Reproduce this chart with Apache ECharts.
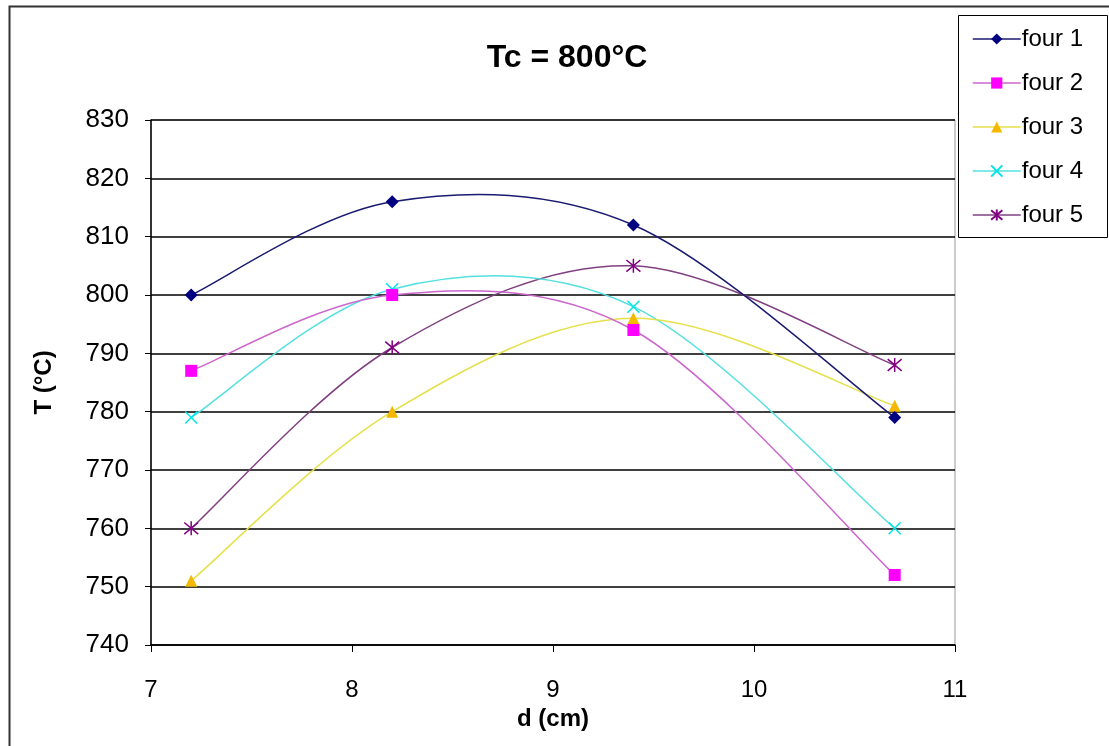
<!DOCTYPE html>
<html>
<head>
<meta charset="utf-8">
<script src="https://cdn.jsdelivr.net/npm/echarts@6/dist/echarts.min.js"></script>
<style>html,body{margin:0;padding:0;background:#fff;}#c{width:1109px;height:746px;}</style>
</head>
<body>
<div id="c"></div>
<script>
const xValues = [7.2, 8.2, 9.4, 10.7];
const seriesNames = ['four 1', 'four 2', 'four 3', 'four 4', 'four 5'];
const four1 = [800, 816, 812, 779];
const four2 = [787, 800, 794, 752];
const four3 = [751, 780, 796, 781];
const four4 = [779, 801, 798, 760];
const four5 = [760, 791, 805, 788];
const yTicks = [740, 750, 760, 770, 780, 790, 800, 810, 820, 830];
const xTicks = [7, 8, 9, 10, 11];

const values = [four1, four2, four3, four4, four5];
const markerColors = ['#000080', '#FF00FF', '#F5B800', '#00E5E5', '#800080'];
const lineColors = ['#1a1a70', '#cc66cc', '#e6e04a', '#55e0e0', '#804080'];
const symbols = [
  'diamond', 'rect', 'triangle',
  'path://M0,0L10,10M10,0L0,10',
  'path://M0,0L10,10M10,0L0,10M5,-1L5,11'
];
const sizes = [13, 12, 12, 12, 14];

const chart = echarts.init(document.getElementById('c'));
const font = 'Liberation Sans, Arial, sans-serif';

// Excel-like smoothed curve (Catmull-Rom bezier) drawn through the axes' coord system
function curveRenderer(i) {
  return function (params, api) {
    if (params.dataIndexInside !== 0) return null;
    const pts = xValues.map((x, j) => api.coord([x, values[i][j]]));
    const n = pts.length;
    const children = [];
    for (let k = 0; k < n - 1; k++) {
      const p0 = pts[Math.max(k - 1, 0)], p1 = pts[k], p2 = pts[k + 1], p3 = pts[Math.min(k + 2, n - 1)];
      children.push({
        type: 'bezierCurve',
        shape: {
          x1: p1[0], y1: p1[1], x2: p2[0], y2: p2[1],
          cpx1: p1[0] + (p2[0] - p0[0]) / 6, cpy1: p1[1] + (p2[1] - p0[1]) / 6,
          cpx2: p2[0] - (p3[0] - p1[0]) / 6, cpy2: p2[1] - (p3[1] - p1[1]) / 6
        },
        style: { stroke: lineColors[i], lineWidth: 1.5, fill: null }
      });
    }
    return { type: 'group', children: children };
  };
}

const series = [];
seriesNames.forEach((n, i) => {
  series.push({
    name: n,
    type: 'line',
    data: xValues.map((x, j) => [x, values[i][j]]),
    symbol: symbols[i],
    symbolSize: sizes[i],
    showSymbol: true,
    lineStyle: { color: lineColors[i], width: 1.5, opacity: 0 },
    itemStyle: { color: markerColors[i], borderColor: markerColors[i], borderWidth: i >= 3 ? 1.5 : 0 },
    emphasis: { disabled: true },
    z: 20 - i
  });
});
seriesNames.forEach((n, i) => {
  series.push({
    name: n,
    type: 'custom',
    renderItem: curveRenderer(i),
    data: xValues.map((x, j) => [x, values[i][j]]),
    encode: { x: 0, y: 1 },
    silent: true,
    z: 10 - i
  });
});

chart.setOption({
  animation: false,
  backgroundColor: '#fff',
  textStyle: { fontFamily: font },
  title: {
    text: 'Tc = 800°C',
    left: 562, top: 37, textAlign: 'center',
    textStyle: { fontSize: 32, fontWeight: 'bold', color: '#000', fontFamily: font }
  },
  graphic: [
    { type: 'rect', shape: { x: 9.5, y: 6.5, width: 1200, height: 800 }, style: { fill: 'none', stroke: '#333', lineWidth: 2 }, z: -10 },
    { type: 'rect', shape: { x: 958.5, y: 15.5, width: 149, height: 222 }, style: { fill: '#fff', stroke: '#000', lineWidth: 1 }, z: 0 }
  ],
  legend: {
    orient: 'vertical',
    left: 972, top: 27,
    itemWidth: 48, itemHeight: 14,
    itemGap: 20,
    padding: 0,
    data: seriesNames.map((n, i) => ({ name: n, lineStyle: { color: lineColors[i], width: 1.5, opacity: 1 } })),
    textStyle: { fontSize: 24, color: '#000', fontFamily: font, padding: [0, 0, 0, -4] },
    z: 10
  },
  grid: {
    left: 151, right: 154, top: 120, bottom: 101,
    show: true, borderColor: '#999', borderWidth: 1, backgroundColor: '#fff'
  },
  xAxis: {
    type: 'value', min: 7, max: 11, interval: 1,
    name: 'd (cm)', nameLocation: 'middle', nameGap: 58,
    nameTextStyle: { fontSize: 24, fontWeight: 'bold', color: '#000', fontFamily: font },
    axisLine: { show: true, onZero: false, lineStyle: { color: '#000', width: 1.5 } },
    axisTick: { show: true, inside: false, length: 7, lineStyle: { color: '#000' } },
    axisLabel: { fontSize: 24, color: '#000', margin: 33, fontFamily: font, formatter: v => xTicks.includes(v) ? String(v) : '' },
    splitLine: { show: false }
  },
  yAxis: {
    type: 'value', min: 740, max: 830, interval: 10,
    name: 'T (°C)', nameLocation: 'middle', nameGap: 95, nameRotate: 90,
    nameTextStyle: { fontSize: 24, fontWeight: 'bold', color: '#000', fontFamily: font },
    axisLine: { show: true, lineStyle: { color: '#000', width: 1.5 } },
    axisTick: { show: true, inside: false, length: 6, lineStyle: { color: '#000' } },
    axisLabel: { fontSize: 26, color: '#000', margin: 22, fontFamily: font, formatter: v => yTicks.includes(v) ? String(v) : '' },
    splitLine: { show: true, lineStyle: { color: '#000', width: 1.5 } }
  },
  series: series
});
</script>
</body>
</html>
